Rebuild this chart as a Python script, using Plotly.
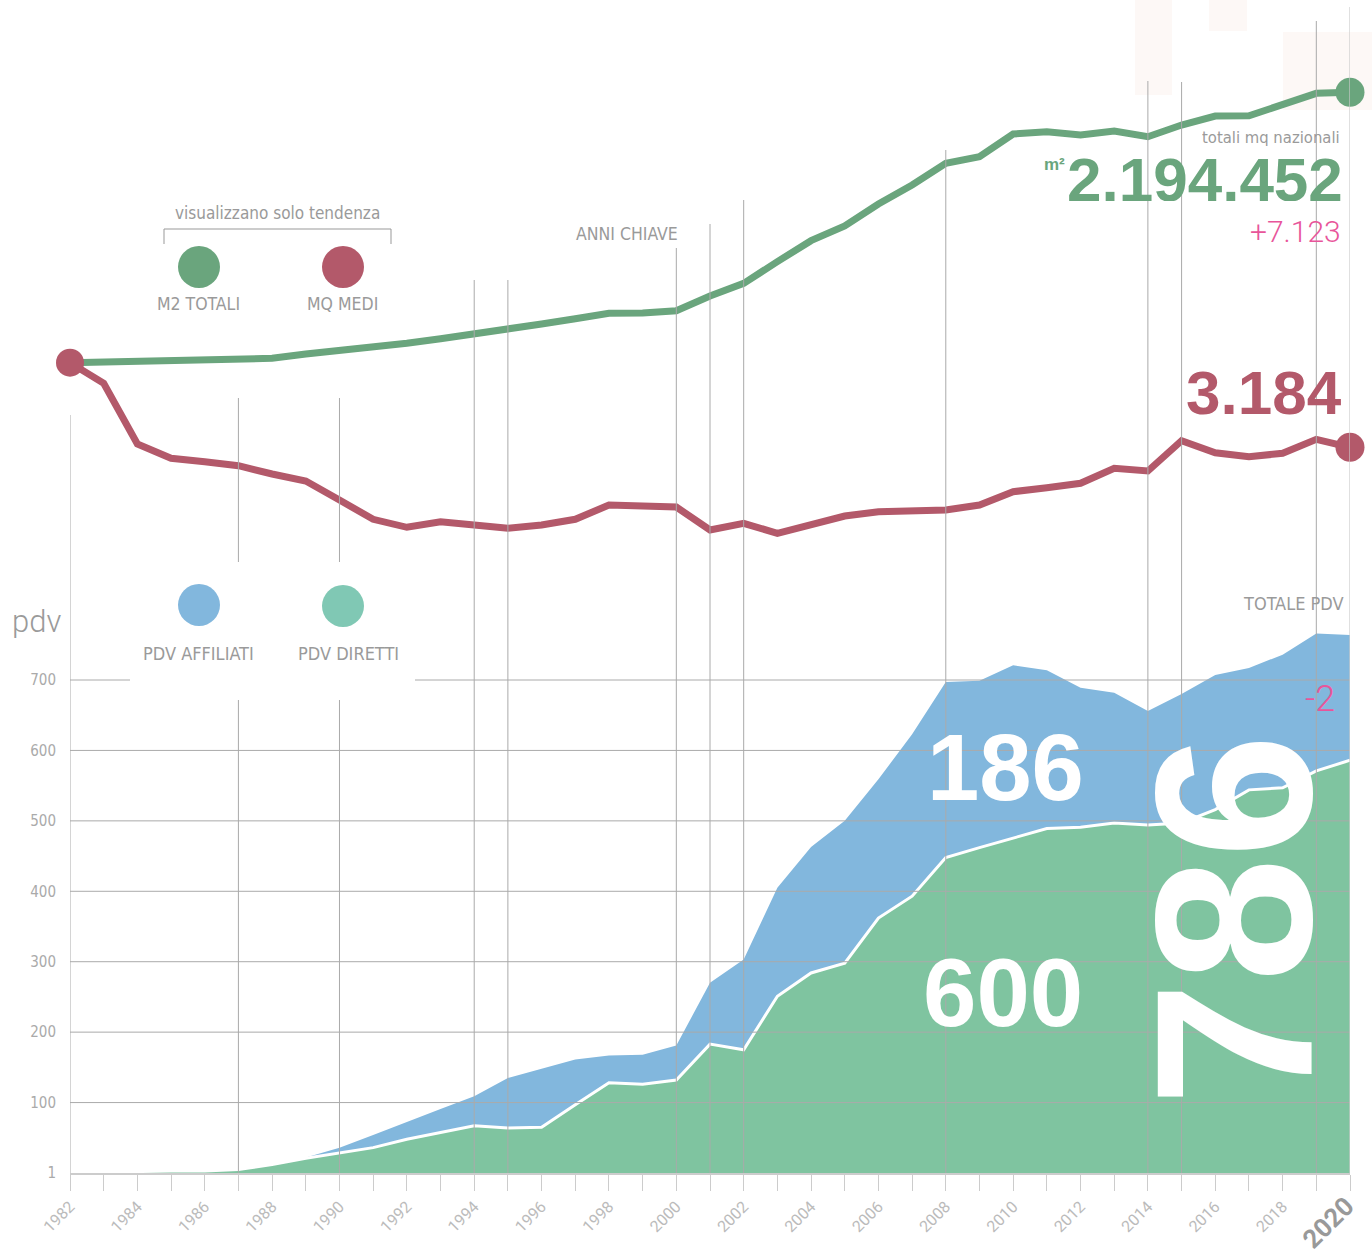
import plotly.graph_objects as go

# ---------------- data ----------------
years = list(range(1982, 2021))

pdv_diretti = [1, 1, 2, 3, 3, 5, 12, 21, 28, 36, 48, 57, 67, 64, 65, 97, 128, 126, 132,
               183, 175, 251, 284, 298, 362, 393, 448, 462, 475, 489, 491, 497, 494,
               497, 516, 544, 547, 571, 586]
pdv_affiliati = [0, 0, 0, 0, 0, 0, 0, 1, 8, 18, 25, 34, 42, 71, 83, 64, 39, 42, 49,
                 87, 128, 154, 179, 202, 197, 230, 249, 237, 246, 225, 198, 185, 162,
                 183, 191, 173, 189, 195, 178]

m2_totali = [300000, 305000, 310000, 312000, 314000, 317000, 331000, 361000, 382000,
             408000, 436000, 468000, 499000, 541000, 571000, 608000, 646000, 648000,
             664000, 767000, 856000, 1008000, 1155000, 1258000, 1412000, 1545000,
             1697000, 1743000, 1902000, 1918000, 1895000, 1923000, 1883000, 1965000,
             2028000, 2030000, 2107000, 2187329, 2194452]
mq_medi = [4876, 4464, 3250, 2964, 2896, 2816, 2650, 2510, 2130, 1744, 1584, 1696, 1630,
           1564, 1630, 1744, 2030, 2016, 1990, 1530, 1664, 1464, 1630, 1810, 1896, 1900,
           1930, 2030, 2296, 2376, 2464, 2764, 2710, 3316, 3076, 2996, 3064, 3344, 3184]

key_years = [1982, 1987, 1990, 1994, 1995, 2000, 2001, 2002, 2008, 2014, 2015, 2019, 2020]
pdv_ticks = [0, 100, 200, 300, 400, 500, 600, 700]
pdv_tick_labels = ["1", "100", "200", "300", "400", "500", "600", "700"]
year_labels = [str(y) if y % 2 == 0 else "" for y in years]
year_labels[-1] = "<b><span style='font-size:26px;color:#999999'>2020</span></b>"

big_affiliati, big_diretti, big_totale = "186", "600", "786"
delta_m2, delta_pdv = "+7.123", "-2"

pdv_totale = [d + a for d, a in zip(pdv_diretti, pdv_affiliati)]

# ---------------- layout helpers ----------------
W, H = 1372, 1255
ML, MR, MT, MB = 70, 22, 0, 82
PW, PH = W - ML - MR, H - MT - MB


def xp(px):
    return (px - ML) / PW


def yp(py):
    return 1 - (py - MT) / PH


GREEN_LINE = "#6aa57d"
RED_LINE = "#b3596a"
GREEN_AREA = "#7fc4a0"
BLUE_AREA = "#82b7dd"
TEAL = "#80c8b4"
PINK = "#e8559a"
GRAY_T = "#9a9a9a"
COND = "Liberation Sans Narrow, DejaVu Sans Condensed, Roboto, sans-serif"
BOLD = "Liberation Sans, Arial, sans-serif"
LIGHT = "Roboto, Liberation Sans, sans-serif"

# line axis scales (trend only)
g_top_px, g_base_px = 92.3, 362.7
g_slope = (m2_totali[-1] - m2_totali[0]) / (g_base_px - g_top_px)
g_range = [m2_totali[-1] + (g_top_px - (MT + PH)) * g_slope, m2_totali[-1] + (g_top_px - MT) * g_slope]
r_end_px, r_slope = 447.3, 20.0
r_range = [mq_medi[-1] + (r_end_px - (MT + PH)) * r_slope, mq_medi[-1] + (r_end_px - MT) * r_slope]
pdv_px_per_unit = 493 / 700

fig = go.Figure()

fig.add_trace(go.Scatter(x=years, y=pdv_totale, mode="lines", fill="tozeroy",
                         fillcolor=BLUE_AREA, line=dict(width=0, color=BLUE_AREA),
                         hoverinfo="skip", showlegend=False))
fig.add_trace(go.Scatter(x=years, y=pdv_diretti, mode="lines", fill="tozeroy",
                         fillcolor=GREEN_AREA, line=dict(width=3, color="white"),
                         hoverinfo="skip", showlegend=False))

n = len(years)
fig.add_trace(go.Scatter(x=years, y=m2_totali, yaxis="y2", mode="lines+markers",
                         line=dict(color=GREEN_LINE, width=7),
                         marker=dict(color=GREEN_LINE, size=[0] * (n - 1) + [29], opacity=1,
                                     line=dict(width=0)),
                         cliponaxis=False, hoverinfo="skip", showlegend=False))
fig.add_trace(go.Scatter(x=years, y=mq_medi, yaxis="y3", mode="lines+markers",
                         line=dict(color=RED_LINE, width=7),
                         marker=dict(color=RED_LINE, size=[28] + [0] * (n - 2) + [29], opacity=1,
                                     line=dict(width=0)),
                         cliponaxis=False, hoverinfo="skip", showlegend=False))

shapes = []
# faint ghost blocks at top right
for x0, y0, x1, y1 in [(1135, -10, 1172, 95), (1209, -10, 1247, 31), (1283, 32, 1380, 110)]:
    shapes.append(dict(type="rect", xref="paper", yref="paper", x0=xp(x0), x1=xp(x1),
                       y0=yp(y1), y1=yp(y0), fillcolor="#fdf8f6", line=dict(width=0), layer="below"))
# horizontal grid
for v in pdv_ticks[1:]:
    shapes.append(dict(type="line", xref="x", yref="y", x0=years[0], x1=years[-1], y0=v, y1=v,
                       line=dict(color="#aaaaaa", width=1), layer="above"))
# key year vertical lines
tops = {1982: 415, 1987: 398, 1990: 398, 1994: 280, 1995: 280, 2000: 248, 2001: 224,
        2002: 200, 2008: 150, 2014: 81, 2015: 82, 2019: 21, 2020: 7}
for yr in key_years:
    col = "#cccccc" if yr == 2020 else "#aaaaaa"
    shapes.append(dict(type="line", xref="x", yref="paper", x0=yr, x1=yr, y0=0, y1=yp(tops[yr]),
                       line=dict(color=col, width=1.2 if yr == 2020 else 1), layer="above"))
# white legend box
shapes.append(dict(type="rect", xref="paper", yref="paper", x0=xp(130), x1=xp(415),
                   y0=yp(700), y1=yp(562), fillcolor="white", line=dict(width=0), layer="above"))
# bracket
shapes.append(dict(type="path", xref="paper", yref="paper",
                   path=f"M {xp(164)} {yp(244)} L {xp(164)} {yp(229)} L {xp(391)} {yp(229)} L {xp(391)} {yp(244)}",
                   line=dict(color="#999999", width=1), layer="above"))


def circle(cx, cy, r, color):
    return dict(type="circle", xref="paper", yref="paper", x0=xp(cx - r), x1=xp(cx + r),
                y0=yp(cy + r), y1=yp(cy - r), fillcolor=color, line=dict(width=0), layer="above")


shapes += [circle(199, 267, 21, GREEN_LINE), circle(343, 267, 21, RED_LINE),
           circle(199, 605, 21, BLUE_AREA), circle(343, 606, 21, TEAL)]

ann = []


def text(s, x, y, size, color, family=COND, xa="center", ya="middle", angle=0, weight=None, h=None):
    f = dict(size=size, color=color, family=family)
    if weight is not None:
        f["weight"] = weight
    a = dict(text=s, xref="paper", yref="paper", x=xp(x), y=yp(y), xanchor=xa, yanchor=ya,
             showarrow=False, font=f, textangle=angle)
    if h is not None:
        a["height"] = h
    ann.append(a)


text("visualizzano solo tendenza", 277, 213, 17, GRAY_T)
text("M2 TOTALI", 198, 304, 17.5, GRAY_T)
text("MQ MEDI", 342, 304, 17.5, GRAY_T)
text("ANNI CHIAVE", 627, 234, 17.5, GRAY_T)
text("PDV AFFILIATI", 198, 653, 18, GRAY_T)
text("PDV DIRETTI", 348, 653, 18, GRAY_T)
text("pdv", 10, 621, 31, GRAY_T, family=LIGHT, xa="left", weight=300)
text("TOTALE PDV", 1346, 603, 18, GRAY_T, xa="right")
text("totali mq nazionali", 1342, 137, 16.5, GRAY_T, xa="right", h=18)
text("2.194.452", 1345, 179, 62, GREEN_LINE, family=BOLD, xa="right", weight="bold", h=44)
text("m²", 1067, 164, 17, GREEN_LINE, family=BOLD, xa="right", weight="bold", h=14)
text(delta_m2, 1343, 231, 30, PINK, family=LIGHT, xa="right", weight=300, h=24)
text("3.184", 1344, 392, 62, RED_LINE, family=BOLD, xa="right", weight="bold", h=46)
text(delta_pdv, 1337, 699, 36, PINK, family=LIGHT, xa="right", weight=300)
text(big_affiliati, 1005, 767, 94, "white", family=BOLD, weight="bold")
text(big_diretti, 1003, 992, 96, "white", family=BOLD, weight="bold")
text(big_totale, 1233, 920, 223, "white", family=BOLD, angle=-90, weight="bold")

fig.update_layout(
    width=W, height=H, margin=dict(l=ML, r=MR, t=MT, b=MB, autoexpand=False),
    paper_bgcolor="white", plot_bgcolor="white", showlegend=False,
    shapes=shapes, annotations=ann,
    xaxis=dict(range=[years[0], years[-1]], tickvals=years, ticktext=year_labels, tickangle=-45,
               ticks="outside", ticklen=16, tickcolor="#cccccc", tickwidth=1,
               tickfont=dict(size=16, color="#bbbbbb", family=LIGHT),
               showline=True, linecolor="#cccccc", linewidth=2, showgrid=False, zeroline=False),
    yaxis=dict(range=[0, PH / pdv_px_per_unit], tickvals=pdv_ticks, ticktext=pdv_tick_labels,
               ticks="outside", ticklen=10, tickcolor="rgba(0,0,0,0)",
               tickfont=dict(size=15, color="#aaaaaa", family=COND),
               showgrid=False, zeroline=False, showline=False),
    yaxis2=dict(range=g_range, overlaying="y", visible=False, showgrid=False, zeroline=False),
    yaxis3=dict(range=r_range, overlaying="y", visible=False, showgrid=False, zeroline=False),
)

fig.write_html("out.html", config={"displayModeBar": False},
               post_script="document.body.style.margin='0px';")
